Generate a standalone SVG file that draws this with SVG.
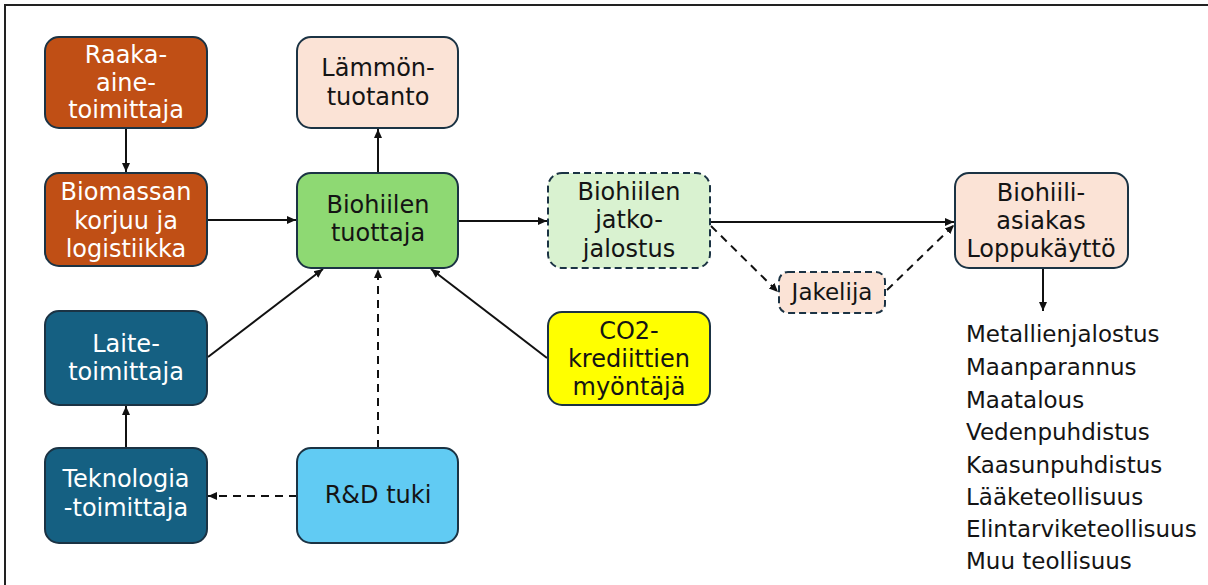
<svg xmlns="http://www.w3.org/2000/svg" width="1208" height="585" viewBox="0 0 1208 585">
<defs>
<style>
.n{stroke:#1b3344;stroke-width:2}
.d{stroke-dasharray:7 4}
.tw{font-family:"DejaVu Sans","Open Sans",sans-serif;font-size:24px;fill:#ffffff;text-anchor:middle}
.tb{font-family:"DejaVu Sans","Open Sans",sans-serif;font-size:24px;fill:#141414;text-anchor:middle}
.lst{font-family:"DejaVu Sans","Open Sans",sans-serif;font-size:23px;fill:#141414}
.c{stroke:#111;stroke-width:2;fill:none}
.cd{stroke-dasharray:8 6}
</style>
<marker id="ah" markerUnits="userSpaceOnUse" markerWidth="10" markerHeight="10" refX="9" refY="5" orient="auto">
<path d="M0,1 L9,5 L0,9 Z" fill="#111"/>
</marker>
</defs>
<rect x="0" y="0" width="1208" height="585" fill="#ffffff"/>
<path d="M5,585 V5 H1208" fill="none" stroke="#222" stroke-width="2"/>

<g id="connectors">
<line class="c" x1="126" y1="128" x2="126" y2="172" marker-end="url(#ah)"/>
<line class="c" x1="207" y1="220" x2="296" y2="220" marker-end="url(#ah)"/>
<line class="c" x1="378" y1="173" x2="378" y2="129" marker-end="url(#ah)"/>
<line class="c" x1="208" y1="357" x2="323" y2="269" marker-end="url(#ah)"/>
<line class="c" x1="126" y1="448" x2="126" y2="406" marker-end="url(#ah)"/>
<line class="c cd" x1="297" y1="496" x2="208" y2="496" marker-end="url(#ah)"/>
<line class="c cd" x1="378" y1="448" x2="378" y2="269" marker-end="url(#ah)"/>
<line class="c" x1="547" y1="358" x2="431" y2="269" marker-end="url(#ah)"/>
<line class="c" x1="458" y1="221" x2="547" y2="221" marker-end="url(#ah)"/>
<line class="c" x1="710" y1="222" x2="954" y2="222" marker-end="url(#ah)"/>
<line class="c cd" x1="711" y1="226" x2="778" y2="292" marker-end="url(#ah)"/>
<line class="c cd" x1="887" y1="290" x2="954" y2="225" marker-end="url(#ah)"/>
<line class="c" x1="1043" y1="268" x2="1043" y2="311" marker-end="url(#ah)"/>
</g>

<g id="raaka">
<rect class="n" x="45" y="37" width="162" height="91" rx="14" fill="#C04F15"/>
<text class="tw" x="126" y="63">Raaka-</text>
<text class="tw" x="126" y="91">aine-</text>
<text class="tw" x="126" y="118">toimittaja</text>
</g>
<g id="biomassa">
<rect class="n" x="45" y="173" width="162" height="93" rx="14" fill="#C04F15"/>
<text class="tw" x="126" y="200">Biomassan</text>
<text class="tw" x="126" y="229">korjuu ja</text>
<text class="tw" x="126" y="257">logistiikka</text>
</g>
<g id="lammontuotanto">
<rect class="n" x="297" y="37" width="161" height="91" rx="14" fill="#FBE3D6"/>
<text class="tb" x="378" y="76">Lämmön-</text>
<text class="tb" x="378" y="105">tuotanto</text>
</g>
<g id="tuottaja">
<rect class="n" x="297" y="173" width="161" height="95" rx="14" fill="#8ED973"/>
<text class="tb" x="378" y="213">Biohiilen</text>
<text class="tb" x="378" y="241">tuottaja</text>
</g>
<g id="laite">
<rect class="n" x="45" y="311" width="162" height="94" rx="14" fill="#156082"/>
<text class="tw" x="126" y="352">Laite-</text>
<text class="tw" x="126" y="380">toimittaja</text>
</g>
<g id="teknologia">
<rect class="n" x="45" y="448" width="162" height="95" rx="14" fill="#156082"/>
<text class="tw" x="126" y="487">Teknologia</text>
<text class="tw" x="126" y="516">-toimittaja</text>
</g>
<g id="rd">
<rect class="n" x="297" y="448" width="161" height="95" rx="14" fill="#61CBF3"/>
<text class="tb" x="378" y="503">R&amp;D tuki</text>
</g>
<g id="co2">
<rect class="n" x="548" y="312" width="162" height="93" rx="14" fill="#FFFF00"/>
<text class="tb" x="629" y="339">CO2-</text>
<text class="tb" x="629" y="367">krediittien</text>
<text class="tb" x="629" y="395">myöntäjä</text>
</g>
<g id="jatkojalostus">
<rect class="n d" x="548" y="173" width="162" height="95" rx="14" fill="#D9F2D0"/>
<text class="tb" x="629" y="200">Biohiilen</text>
<text class="tb" x="629" y="228">jatko-</text>
<text class="tb" x="629" y="257">jalostus</text>
</g>
<g id="jakelija">
<rect class="n d" x="779" y="272" width="106" height="41" rx="9" fill="#FBE3D6"/>
<text class="tb" x="832" y="300" style="font-size:23px">Jakelija</text>
</g>
<g id="asiakas">
<rect class="n" x="955" y="173" width="173" height="95" rx="14" fill="#FBE3D6"/>
<text class="tb" x="1041" y="201">Biohiili-</text>
<text class="tb" x="1041" y="229">asiakas</text>
<text class="tb" x="1041" y="257">Loppukäyttö</text>
</g>
<g id="kayttokohteet">
<text class="lst" x="966" y="342">Metallienjalostus</text>
<text class="lst" x="966" y="375">Maanparannus</text>
<text class="lst" x="966" y="408">Maatalous</text>
<text class="lst" x="966" y="440">Vedenpuhdistus</text>
<text class="lst" x="966" y="473">Kaasunpuhdistus</text>
<text class="lst" x="966" y="505">Lääketeollisuus</text>
<text class="lst" x="966" y="537">Elintarviketeollisuus</text>
<text class="lst" x="966" y="569">Muu teollisuus</text>
</g>
</svg>
